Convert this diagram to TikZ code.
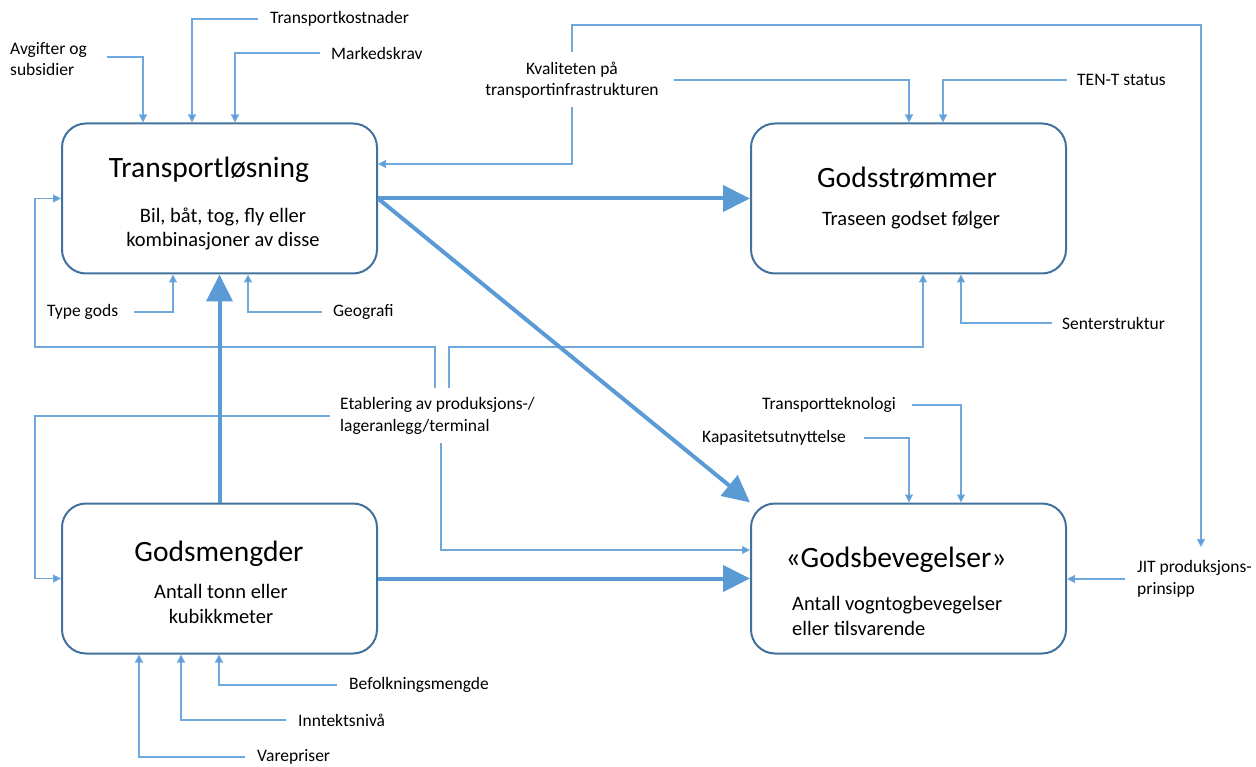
\documentclass[tikz,border=0pt]{standalone}
\usepackage{fontspec}
\setmainfont{Carlito}
\usetikzlibrary{arrows.meta}
\definecolor{boxc}{HTML}{41719C}
\definecolor{linec}{HTML}{5B9BD5}
\definecolor{thinc}{HTML}{6FA8DC}
\begin{document}
\begin{tikzpicture}[x=1pt,y=-1pt,
  box/.style={draw=boxc,line width=2pt,rounded corners=24pt,minimum width=315pt,minimum height=150pt,inner sep=0pt},
  ttl/.style={font=\fontsize{29.5}{34}\selectfont,inner sep=0pt},
  sub/.style={font=\fontsize{20.5}{24.5}\selectfont,inner sep=0pt,align=center},
  lbl/.style={font=\fontsize{17.5}{21.5}\selectfont,inner sep=0pt,align=left,anchor=west},
  thinarrow/.style={draw=thinc,line width=1.2pt,-{Triangle[length=8pt,width=8pt,fill=linec]}},
  thickarrow/.style={draw=linec,line width=4pt,-{Triangle[length=27pt,width=26pt]}}]
\useasboundingbox (0,0) rectangle (1256,767);
% boxes
\node[box] (tl) at (219.5,198.5) {};
\node[box] (gs) at (908.5,198.5) {};
\node[box] (gm) at (219.5,578.5) {};
\node[box] (gb) at (908.5,578.5) {};
% box texts
\node[ttl] (tlT) at (209,170) {Transportløsning};
\node[sub] (tlS) at (223,229) {Bil, båt, tog, fly eller\\kombinasjoner av disse};
\node[ttl] (gsT) at (907,178) {Godsstrømmer};
\node[sub] (gsS) at (911,220) {Traseen godset følger};
\node[ttl] (gmT) at (219,554) {Godsmengder};
\node[sub] (gmS) at (221,604) {Antall tonn eller\\kubikkmeter};
\node[ttl] (gbT) at (896,560) {«Godsbevegelser»};
\node[sub,align=left,anchor=west] (gbS) at (792,616) {Antall vogntogbevegelser\\eller tilsvarende};
% labels
\node[lbl] (avg) at (10,59) {Avgifter og\\subsidier};
\node[lbl] (tk) at (270,19) {Transportkostnader};
\node[lbl] (mk) at (331,53) {Markedskrav};
\node[lbl,align=center,anchor=center] (kv) at (572,80) {Kvaliteten på\\transportinfrastrukturen};
\node[lbl] (ten) at (1077,80) {TEN-T status};
\node[lbl] (jit) at (1137,579) {JIT produksjons-\\prinsipp};
\node[lbl] (type) at (47,312) {Type gods};
\node[lbl] (geo) at (333,312) {Geografi};
\node[lbl] (sen) at (1062,323) {Senterstruktur};
\node[lbl] (etb) at (340,416) {Etablering av produksjons-/\\lageranlegg/terminal};
\node[lbl] (tt) at (762,405) {Transportteknologi};
\node[lbl] (kap) at (702,438) {Kapasitetsutnyttelse};
\node[lbl] (bef) at (349,685) {Befolkningsmengde};
\node[lbl] (inn) at (298,720) {Inntektsnivå};
\node[lbl] (var) at (257,757) {Varepriser};
% helper coordinates
\coordinate (kvtop) at (572,52);
\coordinate (kvbot) at (572,107);
\coordinate (jitin) at (1201,547);
\coordinate (e1) at (435,388);
\coordinate (e2) at (449,388);
\coordinate (e3) at (441,443);
% thin connectors
\draw[thinarrow] ([xshift=20pt]avg.east |- 0,57) -| (tl.north -| 143,0);
\draw[thinarrow] ([xshift=-12pt]tk.west) -| (tl.north -| 192,0);
\draw[thinarrow] ([xshift=-11pt]mk.west) -| (tl.north -| 235,0);
\draw[thinarrow] (kvtop) |- (1201,25) -- (jitin);
\draw[thinarrow] (kvbot) |- (tl.east |- 0,164);
\draw[thinarrow] ([xshift=15pt]kv.east) -| (gs.north -| 909,0);
\draw[thinarrow] ([xshift=-10pt]ten.west) -| (gs.north -| 943,0);
\draw[thinarrow] ([xshift=-12pt]jit.west) -- (gb.east |- jit.west);
\draw[thinarrow] ([xshift=16pt]type.east) -| (tl.south -| 173,0);
\draw[thinarrow] ([xshift=-11pt]geo.west) -| (tl.south -| 248,0);
\draw[thinarrow] (e1) |- (35,347) |- (tl.west);
\draw[thinarrow] (e2) |- (923,347) -- (gs.south -| 923,0);
\draw[thinarrow] ([xshift=-10pt]sen.west) -| (gs.south -| 961,0);
\draw[thinarrow] ([xshift=-10pt]etb.west) -| (35,500) |- (gm.west);
\draw[thinarrow] (e3) |- (gb.west |- 0,550);
\draw[thinarrow] ([xshift=16pt]tt.east) -| (gb.north -| 961,0);
\draw[thinarrow] ([xshift=18pt]kap.east) -| (gb.north -| 909,0);
\draw[thinarrow] ([xshift=-12pt]bef.west) -| (gm.south -| 219,0);
\draw[thinarrow] ([xshift=-12pt]inn.west) -| (gm.south -| 181,0);
\draw[thinarrow] ([xshift=-12pt]var.west) -| (gm.south -| 139,0);
% thick arrows
\draw[thickarrow] (tl.east) -- (gs.west);
\draw[thickarrow] (tl.east) -- (gb.north west);
\draw[thickarrow] (gm.north) -- (tl.south);
\draw[thickarrow] (gm.east) -- (gb.west);
\end{tikzpicture}
\end{document}
